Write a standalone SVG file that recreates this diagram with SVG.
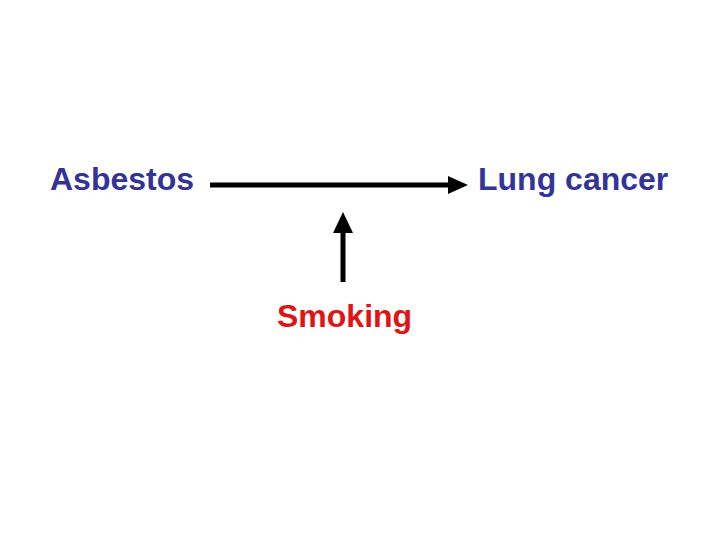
<svg xmlns="http://www.w3.org/2000/svg" width="720" height="540" viewBox="0 0 720 540">
<style>
text{font-family:"Liberation Sans",Arial,sans-serif;font-size:32px;font-weight:bold}
.b{fill:#333399}
.r{fill:#e01414}
.ln{stroke:#000;stroke-width:5;fill:none}
</style>
<rect width="720" height="540" fill="#fff"/>
<g id="asbestos"><text class="b" x="50" y="190">Asbestos</text></g>
<g id="lungcancer"><text class="b" x="478" y="190">Lung cancer</text></g>
<g id="smoking"><text class="r" x="277" y="327">Smoking</text></g>
<g id="connectors">
<line class="ln" x1="210" y1="185" x2="450" y2="185"/>
<polygon points="448,176 468,185 448,194" fill="#000"/>
<line class="ln" x1="343" y1="282" x2="343" y2="230"/>
<polygon points="333,233 343,212 353,233" fill="#000"/>
</g>
</svg>
